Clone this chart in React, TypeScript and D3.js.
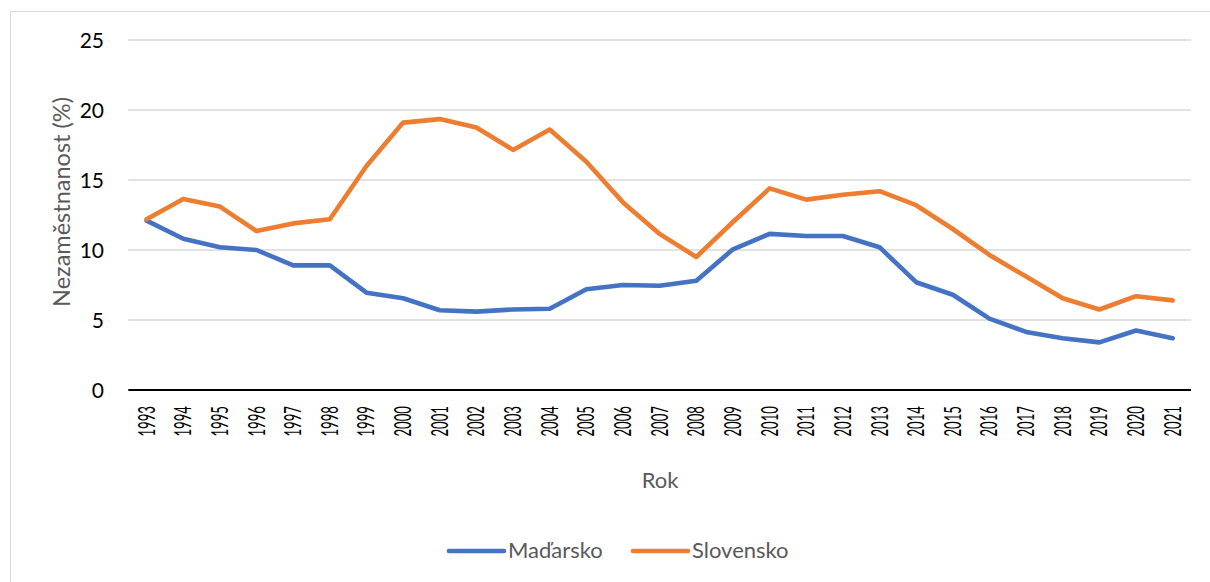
import React from "react";
import * as d3 from "d3";

const years = [
  "1993","1994","1995","1996","1997","1998","1999","2000","2001","2002",
  "2003","2004","2005","2006","2007","2008","2009","2010","2011","2012",
  "2013","2014","2015","2016","2017","2018","2019","2020","2021",
];
const madarsko = [
  12.1, 10.8, 10.2, 10.0, 8.9, 8.9, 6.95, 6.55, 5.7, 5.6,
  5.75, 5.8, 7.2, 7.5, 7.45, 7.8, 10.05, 11.15, 11.0, 11.0,
  10.2, 7.7, 6.8, 5.1, 4.15, 3.7, 3.4, 4.25, 3.7,
];
const slovensko = [
  12.2, 13.65, 13.1, 11.35, 11.9, 12.2, 16.0, 19.1, 19.35, 18.75,
  17.15, 18.6, 16.3, 13.4, 11.15, 9.5, 12.0, 14.4, 13.6, 13.95,
  14.2, 13.2, 11.5, 9.65, 8.1, 6.55, 5.75, 6.7, 6.4,
];
const yTicks = [0, 5, 10, 15, 20, 25];
const seriesNames = ["Maďarsko", "Slovensko"];
const seriesColors = ["#4472C4", "#ED7D31"];

const W = 1210;
const H = 582;
const plot = { left: 128.3, right: 1191, top: 40, bottom: 390 };

export default function App() {
  const x = d3.scaleBand<string>().domain(years).range([plot.left, plot.right]).padding(0);
  const cx = (yr: string) => (x(yr) as number) + x.bandwidth() / 2;
  const y = d3.scaleLinear().domain([0, 25]).range([plot.bottom, plot.top]);
  const line = d3
    .line<number>()
    .x((_, i) => cx(years[i]))
    .y((v) => y(v));
  const series = [madarsko, slovensko];
  const font = "Lato, 'Open Sans', sans-serif";
  const legendItems = [
    { lx: 449, tx: 508 },
    { lx: 633, tx: 692 },
  ];

  return (
    <svg
      width={W}
      height={H}
      style={{ position: "absolute", left: 0, top: 0, background: "#fff" }}
    >
      <rect x={0} y={0} width={W} height={H} fill="#fff" />
      <rect x={10.5} y={11.5} width={1260} height={700} fill="none" stroke="#d9d9d9" strokeWidth={1} />
      {yTicks.filter((t) => t > 0).map((t) => (
        <line key={t} x1={plot.left} x2={plot.right} y1={y(t)} y2={y(t)} stroke="#d9d9d9" strokeWidth={1.3} />
      ))}
      <line x1={plot.left} x2={plot.right} y1={y(0)} y2={y(0)} stroke="#000" strokeWidth={2} />
      {yTicks.map((t) => (
        <text key={t} x={104} y={y(t) + 7.7} textAnchor="end" fontFamily={font} fontSize={21} fill="#000">
          {t}
        </text>
      ))}
      {years.map((yr) => (
        <text
          key={yr}
          transform={`translate(${cx(yr) + 8},${406}) rotate(-90)`}
          textAnchor="end"
          fontFamily={font}
          fontSize={23}
          textLength={30.5}
          lengthAdjust="spacingAndGlyphs"
          fill="#000"
        >
          {yr}
        </text>
      ))}
      <text
        transform={`translate(70,202) rotate(-90)`}
        textAnchor="middle"
        fontFamily={font}
        fontSize={23.5}
        fill="#595959"
      >
        Nezaměstnanost (%)
      </text>
      <text x={660} y={488} textAnchor="middle" fontFamily={font} fontSize={22} fill="#595959">
        Rok
      </text>
      {series.map((s, i) => (
        <path
          key={i}
          d={line(s) as string}
          fill="none"
          stroke={seriesColors[i]}
          strokeWidth={4.6}
          strokeLinejoin="round"
          strokeLinecap="round"
        />
      ))}
      {seriesNames.map((n, i) => (
        <g key={n}>
          <line
            x1={legendItems[i].lx}
            x2={legendItems[i].lx + 55}
            y1={551}
            y2={551}
            stroke={seriesColors[i]}
            strokeWidth={4.6}
            strokeLinecap="round"
          />
          <text x={legendItems[i].tx} y={558} fontFamily={font} fontSize={22} fill="#595959">
            {n}
          </text>
        </g>
      ))}
    </svg>
  );
}
